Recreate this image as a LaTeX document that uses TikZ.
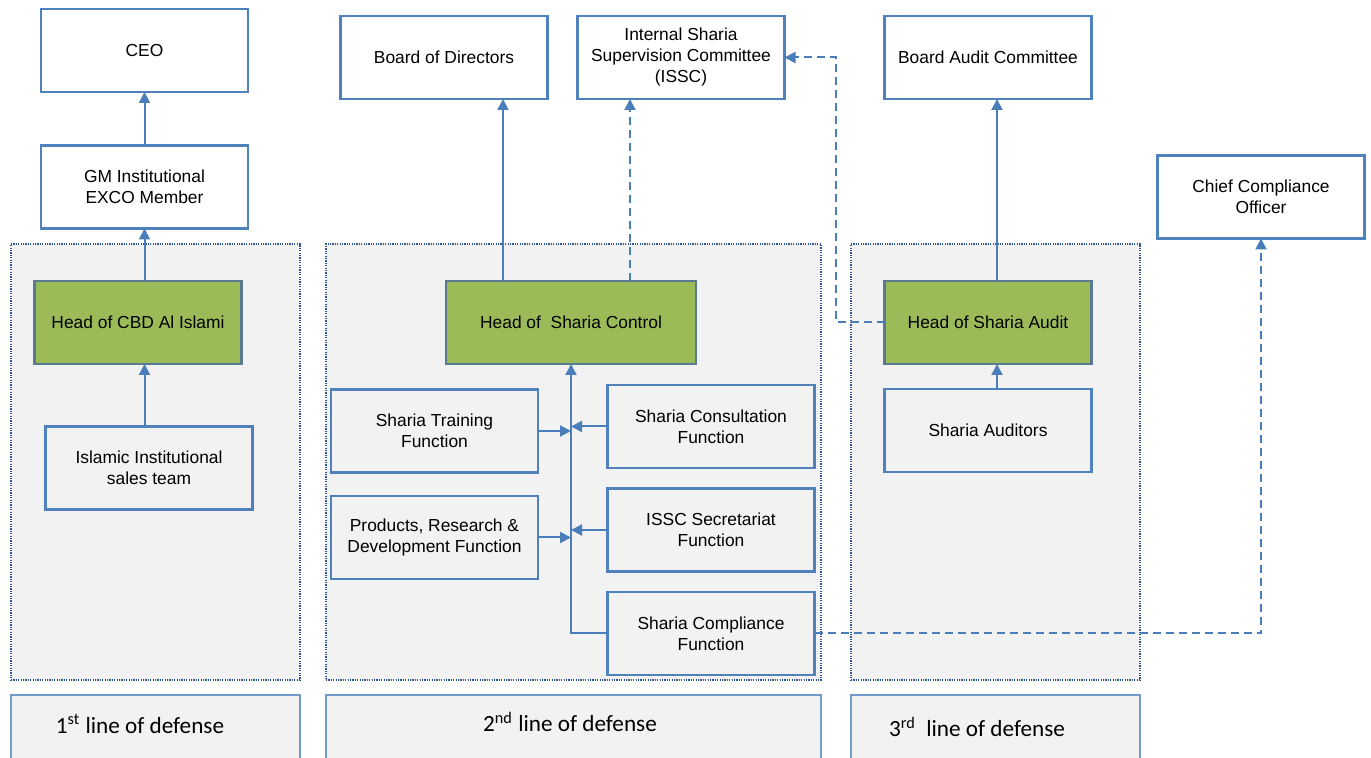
\documentclass[tikz,border=0pt]{standalone}
\usepackage{fontspec}
\setmainfont{Liberation Sans}
\newfontfamily\lodfont{Carlito}
\usetikzlibrary{arrows.meta,calc}
\definecolor{boxblue}{HTML}{4F81BD}
\definecolor{linkblue}{HTML}{4A7EBB}
\definecolor{panelgray}{HTML}{F2F2F2}
\definecolor{dotblue}{HTML}{2F5597}
\definecolor{headgreen}{HTML}{9BBB59}
\definecolor{headline}{HTML}{5A7A92}
\begin{document}
\begin{tikzpicture}[x=0.5pt, y=-0.5pt, >={Triangle[length=5.5pt,width=5.5pt]},
	every node/.style={font=\fontsize{8.7}{10.5}\selectfont, align=center, inner sep=0pt, outer sep=0pt},
	unit/.style={draw=boxblue, line width=1.1pt, minimum width=103.5pt, minimum height=41.5pt},
	head/.style={unit, fill=headgreen, draw=headline},
	panel/.style={draw=dotblue, line width=0.8pt, dash pattern=on 0.6pt off 0.6pt, fill=panelgray, minimum height=218pt},
	lodbox/.style={draw=boxblue!80, line width=0.6pt, fill=panelgray, minimum height=32.5pt},
	lodtext/.style={font=\lodfont\fontsize{11.6}{14}\selectfont},
	link/.style={draw=linkblue, line width=1pt, ->},
	dlink/.style={link, dash pattern=on 4pt off 2.5pt}]
	\useasboundingbox (0,0) rectangle (1371,758);
	\node[panel, minimum width=144.5pt] (panel1) at (155.5,462) {};
	\node[panel, minimum width=247.5pt] (panel2) at (573.5,462) {};
	\node[panel, minimum width=144.5pt] (panel3) at (995.5,462) {};
	\node[unit] (ceo) at (144.5,50.5) {CEO};
	\node[unit] (gm) at (144.5,187) {GM Institutional\\EXCO Member};
	\node[head] (hcbd) at (138,322.5) {Head of CBD Al Islami};
	\node[unit] (sales) at (149,468) {Islamic Institutional\\sales team};
	\node[unit] (bod) at (444,57.5) {Board of Directors};
	\node[unit] (issc) at (681,57.5) {Internal Sharia\\Supervision Committee\\(ISSC)};
	\node[unit] (bac) at (988,57.5) {Board Audit Committee};
	\node[unit] (cco) at (1261,197) {Chief Compliance\\Officer};
	\node[head, minimum width=125pt] (ctrl) at (571,322.5) {Head of\ \ Sharia Control};
	\node[head] (haudit) at (988,322.5) {Head of Sharia Audit};
	\node[unit] (auditors) at (988,430.5) {Sharia Auditors};
	\node[unit] (train) at (434.5,431) {Sharia Training\\Function};
	\node[unit] (consult) at (711,426.5) {Sharia Consultation\\Function};
	\node[unit] (prod) at (434.5,537.5) {Products, Research \&\\Development Function};
	\node[unit] (secr) at (711,530) {ISSC Secretariat\\Function};
	\node[unit] (comp) at (711,633.5) {Sharia Compliance\\Function};
	\node[lodbox, minimum width=144.5pt] (lod1) at (155.5,727.5) {};
	\node[lodbox, minimum width=247.5pt] (lod2) at (573.5,727.5) {};
	\node[lodbox, minimum width=144.5pt] (lod3) at (995.5,727.5) {};
	\node[lodtext] (lodtext1) at (140,724) {1\textsuperscript{st} line of defense};
	\node[lodtext] (lodtext2) at (570,722) {2\textsuperscript{nd} line of defense};
	\node[lodtext] (lodtext3) at (977,727) {3\textsuperscript{rd}\ \ line of defense};
	\draw[link] (gm.north -| ceo.south) -- (ceo.south);
	\draw[link] (hcbd.north -| ceo.south) -- (gm.south);
	\draw[link] (sales.north -| ceo.south) -- (hcbd.south -| ceo.south);
	\coordinate (bodin) at ($(ctrl.north)+(-68,0)$);
	\coordinate (isscin) at ($(ctrl.north)+(59,0)$);
	\coordinate (bacin) at ($(haudit.north)+(9,0)$);
	\coordinate (audin) at ($(auditors.north)+(9,0)$);
	\draw[link] (bodin) -- (bodin |- bod.south);
	\draw[dlink] (isscin) -- (isscin |- issc.south);
	\draw[link] (bacin) -- (bacin |- bac.south);
	\draw[link] (audin) -- (audin |- haudit.south);
	\draw[dlink] (haudit.west) -- ++(-49,0) |- (issc.east);
	\draw[link] (comp.west) -| (ctrl.south);
	\draw[link] (train.east) -- (train.east -| ctrl.south);
	\draw[link] (prod.east) -- (prod.east -| ctrl.south);
	\draw[link] (consult.west) -- (consult.west -| ctrl.south);
	\draw[link] (secr.west) -- (secr.west -| ctrl.south);
	\draw[dlink] (comp.east) -| (cco.south);
\end{tikzpicture}
\end{document}
